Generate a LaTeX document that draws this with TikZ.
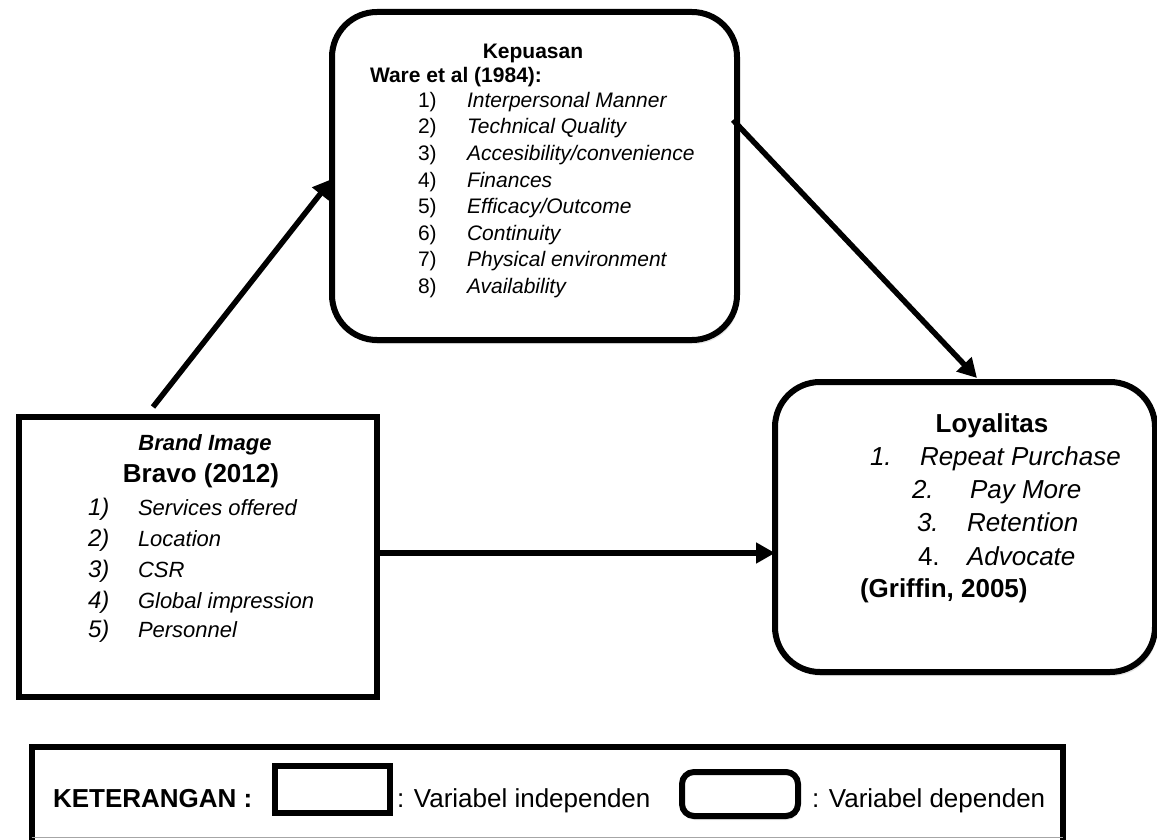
\documentclass[tikz,border=0pt]{standalone}
\usepackage{fontspec}
\setmainfont{Liberation Sans}
\usetikzlibrary{arrows.meta,shadows,calc}
\newcommand{\fs}[1]{\fontsize{#1}{#1}\selectfont}
\tikzset{
  box/.style={draw, line width=6pt, fill=white, inner sep=0pt, outer sep=0pt},
  depbox/.style={box, rounded corners=45pt, drop shadow={opacity=0.2, shadow xshift=2pt, shadow yshift=-4pt}},
  indbox/.style={box},
  txt/.style={inner sep=0pt, outer sep=0pt, anchor=base west},
  ctxt/.style={inner sep=0pt, outer sep=0pt, anchor=base},
  arr/.style={line width=5.5pt, -{Triangle[length=19pt,width=20pt]}},
  kf/.style={font=\fs{21}},
  kif/.style={font=\fs{21}\itshape},
  bf/.style={font=\fs{22}\itshape},
  bnf/.style={font=\fs{24}\itshape},
  lf/.style={font=\fs{26}},
}
\begin{document}
\begin{tikzpicture}[x=1pt,y=-1pt]
\useasboundingbox (0,0) rectangle (1157,840);

% boxes
\node[depbox, minimum width=405pt, minimum height=328pt] (kep) at (534.5,176) {};
\node[indbox, minimum width=358pt, minimum height=280pt] (brand) at (198,557) {};
\node[depbox, minimum width=380pt, minimum height=290pt] (loy) at (965,527) {};

% Kepuasan text
\node[ctxt, font=\fs{21}\bfseries] (k0) at (533,59) {Kepuasan};
\node[txt, font=\fs{21}\bfseries] (k00) at (370,82.5) {Ware et al (1984):};
\node[txt,kf] (kn1) at (418,107.5) {1)}; \node[txt,kif] (ki1) at (467,107.5) {Interpersonal Manner};
\node[txt,kf] (kn2) at (418,134) {2)}; \node[txt,kif] (ki2) at (467,134) {Technical Quality};
\node[txt,kf] (kn3) at (418,160.5) {3)}; \node[txt,kif] (ki3) at (467,160.5) {Accesibility/convenience};
\node[txt,kf] (kn4) at (418,187) {4)}; \node[txt,kif] (ki4) at (467,187) {Finances};
\node[txt,kf] (kn5) at (418,213.5) {5)}; \node[txt,kif] (ki5) at (467,213.5) {Efficacy/Outcome};
\node[txt,kf] (kn6) at (418,240) {6)}; \node[txt,kif] (ki6) at (467,240) {Continuity};
\node[txt,kf] (kn7) at (418,266.5) {7)}; \node[txt,kif] (ki7) at (467,266.5) {Physical environment};
\node[txt,kf] (kn8) at (418,293) {8)}; \node[txt,kif] (ki8) at (467,293) {Availability};

% Brand Image text
\node[ctxt, font=\fs{22}\bfseries\itshape] (b0) at (205,450) {Brand Image};
\node[ctxt, font=\fs{26}\bfseries] (b00) at (201,482) {Bravo (2012)};
\node[txt,bnf] (bn1) at (88,515) {1)}; \node[txt,bf] (bi1) at (138,515) {Services offered};
\node[txt,bnf] (bn2) at (88,546) {2)}; \node[txt,bf] (bi2) at (138,546) {Location};
\node[txt,bnf] (bn3) at (88,577) {3)}; \node[txt,bf] (bi3) at (138,577) {CSR};
\node[txt,bnf] (bn4) at (88,608) {4)}; \node[txt,bf] (bi4) at (138,608) {Global impression};
\node[txt,bnf] (bn5) at (88,637) {5)}; \node[txt,bf] (bi5) at (138,637) {Personnel};

% Loyalitas text
\node[ctxt, font=\fs{26}\bfseries] (l0) at (992,432) {Loyalitas};
\node[txt,font=\fs{26}\itshape] (ln1) at (870,465) {1.}; \node[txt,font=\fs{26}\itshape] (li1) at (920,465) {Repeat Purchase};
\node[txt,font=\fs{26}\itshape] (ln2) at (912,498) {2.}; \node[txt,font=\fs{26}\itshape] (li2) at (970,498) {Pay More};
\node[txt,font=\fs{26}\itshape] (ln3) at (917,531) {3.}; \node[txt,font=\fs{26}\itshape] (li3) at (967,531) {Retention};
\node[txt,lf] (ln4) at (918,565) {4.}; \node[txt,font=\fs{26}\itshape] (li4) at (967,565) {Advocate};
\node[txt, font=\fs{26}\bfseries] (l5) at (860,597) {(Griffin, 2005)};

% arrows
\draw[arr] ([xshift=-45pt,yshift=10pt]brand.north) -- ([yshift=-3pt]kep.west);
\draw[arr] ([xshift=-4pt,yshift=56pt]kep.east) -- ([xshift=12pt,yshift=4pt]loy.north);
\coordinate (bl) at ([yshift=4pt]brand.east);
\draw[arr] (bl) -- (bl -| loy.west);

% legend
\node[indbox, minimum width=1031.5pt, minimum height=99.5pt] (leg) at (547.25,796.25) {};
\draw[gray!70, line width=0.8pt] (31.5,837.5) -- (1063,837.5);
\node[txt, font=\fs{26}\bfseries] (legt) at (53,807) {KETERANGAN :};
\node[indbox, minimum width=115pt, minimum height=47pt] (sind) at (332.5,789.5) {};
\node[txt, font=\fs{26}] (tind) at (397,807) {: Variabel independen};
\node[box, rounded corners=12pt, drop shadow={opacity=0.2, shadow xshift=1pt, shadow yshift=-4pt}, minimum width=116pt, minimum height=44pt] (sdep) at (740,794) {};
\node[txt, font=\fs{26}] (tdep) at (812,807) {: Variabel dependen};
\end{tikzpicture}
\end{document}
